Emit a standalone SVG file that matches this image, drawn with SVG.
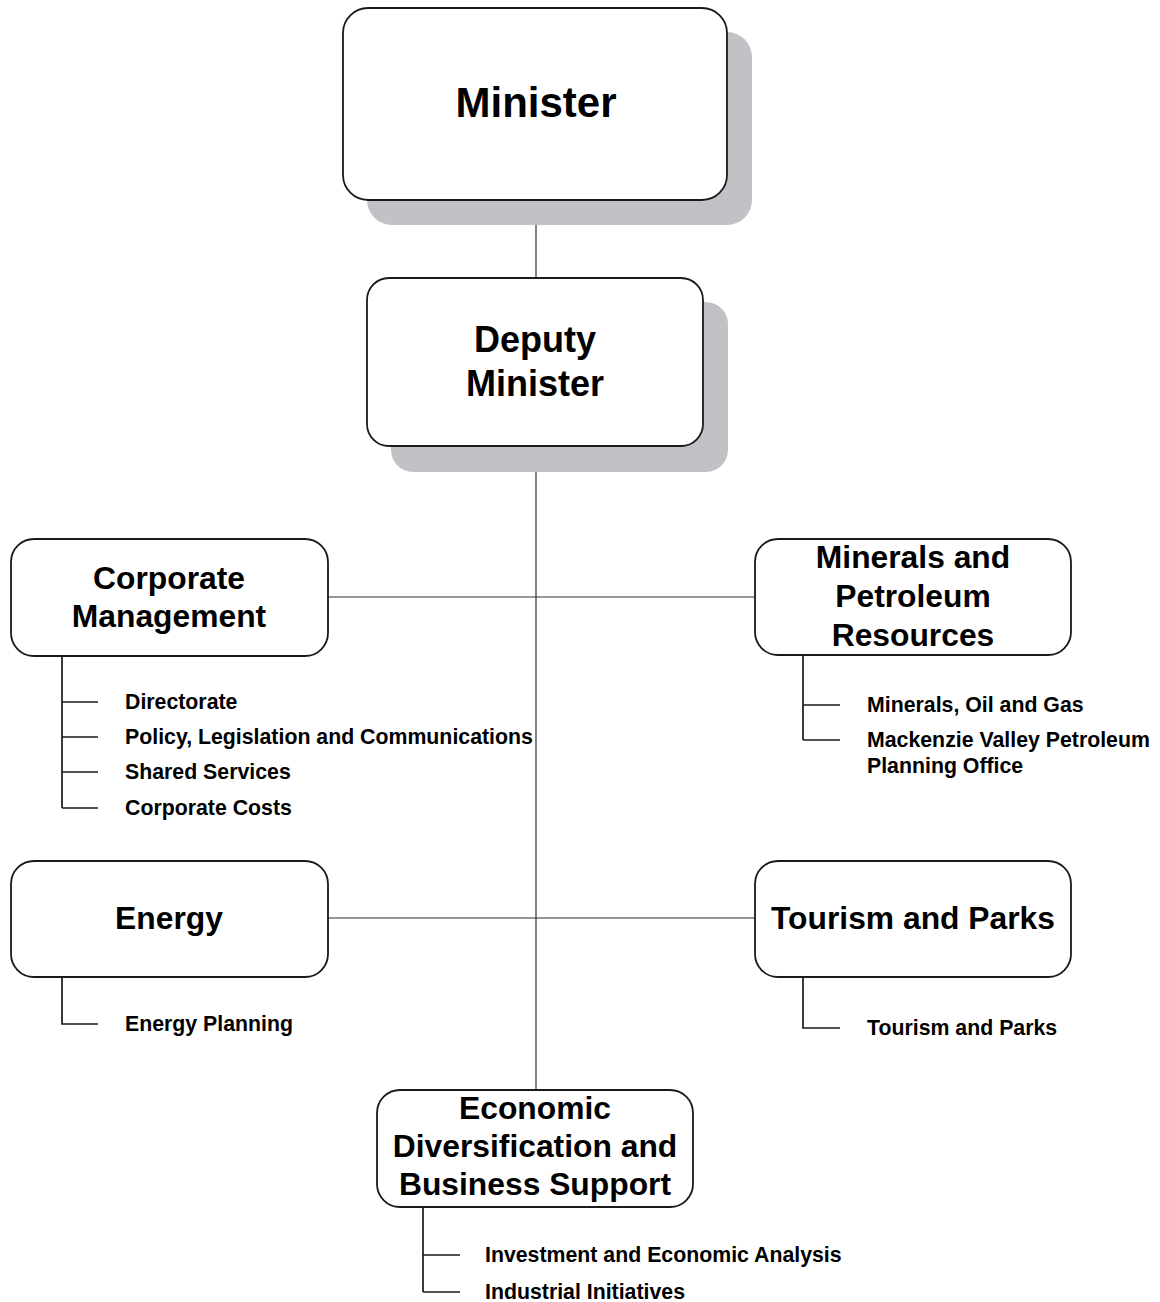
<svg xmlns="http://www.w3.org/2000/svg" width="1160" height="1302" viewBox="0 0 1160 1302">
  <style>
    .box { fill: #ffffff; stroke: #1a1a1a; stroke-width: 1.8; }
    .shadow { fill: #c1c2c5; stroke: none; }
    .conn { fill: none; stroke: #2e2e2e; stroke-width: 1.2; }
    .sub { fill: none; stroke: #1a1a1a; stroke-width: 1.7; }
    .t1 { font-family: "Liberation Sans", Arial, sans-serif; font-weight: bold; fill: #000; text-anchor: middle; }
    .big { font-size: 42px; }
    .mid { font-size: 36px; }
    .unit { font-size: 31.8px; }
    .item { font-family: "Liberation Sans", Arial, sans-serif; font-weight: bold; font-size: 21.3px; fill: #000; }
  </style>

  <!-- connectors -->
  <g id="connectors">
    <line class="conn" x1="536" y1="200" x2="536" y2="278"/>
    <line class="conn" x1="536" y1="446" x2="536" y2="1090"/>
    <line class="conn" x1="328" y1="597" x2="755" y2="597"/>
    <line class="conn" x1="328" y1="918" x2="755" y2="918"/>
    <!-- Corporate Management sub-units -->
    <path class="sub" d="M62 656 V808 M62 702 H98 M62 737 H98 M62 772 H98 M62 808 H98"/>
    <!-- Minerals and Petroleum Resources sub-units -->
    <path class="sub" d="M803 655 V740 M803 705 H840 M803 740 H840"/>
    <!-- Energy sub-unit -->
    <path class="sub" d="M62 977 V1024 H98"/>
    <!-- Tourism and Parks sub-unit -->
    <path class="sub" d="M803 977 V1028 H840"/>
    <!-- Economic Diversification sub-units -->
    <path class="sub" d="M423 1207 V1292 M423 1255 H460 M423 1292 H460"/>
  </g>

  <g id="minister">
    <rect class="shadow" x="367" y="32" width="385" height="193" rx="25"/>
    <rect class="box" x="343" y="8" width="384" height="192" rx="25"/>
    <text class="t1 big" x="536" y="117">Minister</text>
  </g>

  <g id="deputy-minister">
    <rect class="shadow" x="391" y="302" width="337" height="170" rx="22"/>
    <rect class="box" x="367" y="278" width="336" height="168" rx="22"/>
    <text class="t1 mid" x="535" y="352">Deputy</text>
    <text class="t1 mid" x="535" y="396">Minister</text>
  </g>

  <g id="corporate-management">
    <rect class="box" x="11" y="539" width="317" height="117" rx="23"/>
    <text class="t1 unit" x="169" y="589">Corporate</text>
    <text class="t1 unit" x="169" y="627">Management</text>
  </g>
  <g id="corporate-items">
    <text class="item" x="125" y="709">Directorate</text>
    <text class="item" x="125" y="744">Policy, Legislation and Communications</text>
    <text class="item" x="125" y="779">Shared Services</text>
    <text class="item" x="125" y="815">Corporate Costs</text>
  </g>

  <g id="minerals-petroleum">
    <rect class="box" x="755" y="539" width="316" height="116" rx="23"/>
    <text class="t1 unit" x="913" y="568">Minerals and</text>
    <text class="t1 unit" x="913" y="607">Petroleum</text>
    <text class="t1 unit" x="913" y="646">Resources</text>
  </g>
  <g id="minerals-items">
    <text class="item" x="867" y="712">Minerals, Oil and Gas</text>
    <text class="item" x="867" y="747">Mackenzie Valley Petroleum</text>
    <text class="item" x="867" y="773">Planning Office</text>
  </g>

  <g id="energy">
    <rect class="box" x="11" y="861" width="317" height="116" rx="23"/>
    <text class="t1 unit" x="169" y="929">Energy</text>
  </g>
  <g id="energy-items">
    <text class="item" x="125" y="1031">Energy Planning</text>
  </g>

  <g id="tourism-parks">
    <rect class="box" x="755" y="861" width="316" height="116" rx="23"/>
    <text class="t1 unit" x="913" y="929">Tourism and Parks</text>
  </g>
  <g id="tourism-items">
    <text class="item" x="867" y="1035">Tourism and Parks</text>
  </g>

  <g id="economic-diversification">
    <rect class="box" x="377" y="1090" width="316" height="117" rx="23"/>
    <text class="t1 unit" x="535" y="1119">Economic</text>
    <text class="t1 unit" x="535" y="1157">Diversification and</text>
    <text class="t1 unit" x="535" y="1195">Business Support</text>
  </g>
  <g id="economic-items">
    <text class="item" x="485" y="1262">Investment and Economic Analysis</text>
    <text class="item" x="485" y="1299">Industrial Initiatives</text>
  </g>
</svg>
